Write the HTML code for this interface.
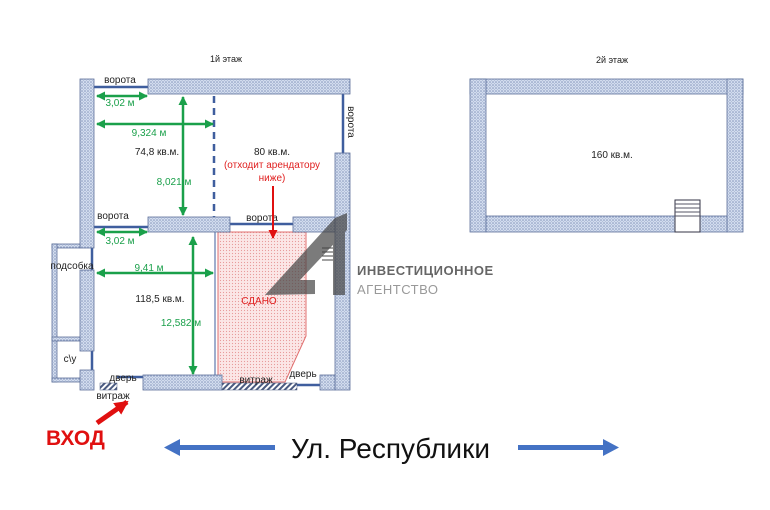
<!DOCTYPE html>
<html><head><meta charset="utf-8"><style>body{margin:0;background:#fff}svg{display:block}</style></head><body>
<svg width="770" height="510" viewBox="0 0 770 510" xmlns="http://www.w3.org/2000/svg" font-family="Liberation Sans, sans-serif">
<defs>
<pattern id="w" width="3" height="3" patternUnits="userSpaceOnUse"><rect width="3" height="3" fill="#d2dcee"/><circle cx="1" cy="1" r="0.8" fill="#8596bb"/><circle cx="2.5" cy="2.5" r="0.5" fill="#a8b6d2"/></pattern>
<pattern id="h" width="4" height="4" patternUnits="userSpaceOnUse" patternTransform="rotate(45)"><rect width="4" height="4" fill="#fff"/><rect width="2" height="4" fill="#4a5a80"/></pattern>
<pattern id="r" width="3" height="3" patternUnits="userSpaceOnUse"><rect width="3" height="3" fill="#fbe6e6"/><circle cx="1.5" cy="1.5" r="0.6" fill="#e89a9a"/></pattern>
<marker id="ga" markerUnits="userSpaceOnUse" markerWidth="9" markerHeight="9" refX="8" refY="4.5" orient="auto-start-reverse"><path d="M0,0L9,4.5L0,9Z" fill="#1aa04a"/></marker>
<marker id="ra" markerUnits="userSpaceOnUse" markerWidth="9" markerHeight="9" refX="8" refY="4.5" orient="auto"><path d="M0,0L9,4.5L0,9Z" fill="#e01010"/></marker>
<marker id="ra2" markerUnits="userSpaceOnUse" markerWidth="14" markerHeight="14" refX="12" refY="7" orient="auto"><path d="M0,0L14,7L0,14Z" fill="#e01010"/></marker>
</defs>
<g font-size="9" fill="#222" text-anchor="middle">
<text x="226" y="62">1й этаж</text><text x="612" y="63">2й этаж</text>
</g>
<g stroke="#3f5e9e" stroke-width="2.5" fill="none">
<line x1="94" y1="87" x2="148" y2="87"/>
<line x1="343" y1="94" x2="343" y2="153"/>
<line x1="94" y1="227" x2="148" y2="227"/>
<line x1="230" y1="224" x2="293" y2="224"/>
<line x1="92" y1="248" x2="92" y2="270"/>
<line x1="92" y1="351" x2="92" y2="370"/>
<line x1="117" y1="377" x2="143" y2="377"/>
<line x1="297" y1="385" x2="320" y2="385"/>
<line x1="214" y1="96" x2="214" y2="217" stroke-dasharray="7,5"/>
<line x1="215" y1="232" x2="215" y2="375" stroke-width="1"/><line x1="218" y1="232" x2="218" y2="375" stroke-width="1"/>
</g>
<polygon points="218,232 306,232 306,336 285,382 218,382" fill="url(#r)" stroke="#e07070" stroke-width="1"/>
<g fill="url(#w)" stroke="#5c6f9a" stroke-width="0.8">
<rect x="80" y="79" width="14" height="169"/>
<rect x="148" y="79" width="202" height="15"/>
<rect x="335" y="153" width="15" height="237"/>
<rect x="148" y="217" width="82" height="15"/>
<rect x="293" y="217" width="42" height="15"/>
<rect x="80" y="270" width="14" height="81"/>
<rect x="80" y="370" width="14" height="20"/>
<rect x="143" y="375" width="79" height="15"/>
<rect x="320" y="375" width="15" height="15"/>
<rect x="52" y="244" width="28" height="4"/>
<rect x="52" y="244" width="5" height="138"/>
<rect x="52" y="337" width="28" height="4"/>
<rect x="52" y="378" width="28" height="4"/>
<rect x="470" y="79" width="273" height="15"/>
<rect x="470" y="79" width="16" height="153"/>
<rect x="727" y="79" width="16" height="153"/>
<rect x="486" y="216" width="189" height="16"/>
<rect x="700" y="216" width="27" height="16"/>
</g>
<rect x="222" y="383" width="75" height="7" fill="url(#h)" stroke="#4a5a80" stroke-width="0.5"/>
<rect x="100" y="383" width="17" height="7" fill="url(#h)" stroke="#4a5a80" stroke-width="0.5"/>
<g stroke="#334" stroke-width="1" fill="#fff"><rect x="675" y="200" width="25" height="32"/></g>
<g stroke="#556" stroke-width="1"><line x1="675" y1="204" x2="700" y2="204"/><line x1="675" y1="208" x2="700" y2="208"/><line x1="675" y1="212" x2="700" y2="212"/><line x1="675" y1="216" x2="700" y2="216"/></g>
<g fill="#444" opacity="0.7">
<polygon points="265,295 335,218 347,213 347,230 300,280 315,280 315,294"/>
<rect x="333" y="232" width="12" height="63"/>
</g>
<g stroke="#444" stroke-width="1"><line x1="322" y1="248" x2="333" y2="248"/><line x1="322" y1="252" x2="333" y2="252"/><line x1="322" y1="256" x2="333" y2="256"/><line x1="322" y1="260" x2="333" y2="260"/></g>
<text x="357" y="275" font-size="13" fill="#666" font-weight="bold" letter-spacing="0.5">ИНВЕСТИЦИОННОЕ</text>
<text x="357" y="294" font-size="13" fill="#999" letter-spacing="0.5">АГЕНТСТВО</text>
<g stroke="#1aa04a" stroke-width="2.5" marker-start="url(#ga)" marker-end="url(#ga)">
<line x1="97" y1="96" x2="147" y2="96"/>
<line x1="97" y1="124" x2="213" y2="124"/>
<line x1="183" y1="97" x2="183" y2="215"/>
<line x1="97" y1="232" x2="147" y2="232"/>
<line x1="97" y1="273" x2="213" y2="273"/>
<line x1="193" y1="237" x2="193" y2="374"/>
</g>
<g font-size="10" fill="#1aa04a" text-anchor="middle">
<text x="120" y="106">3,02 м</text><text x="149" y="136">9,324 м</text>
<text x="174" y="185">8,021 м</text><text x="120" y="244">3,02 м</text>
<text x="149" y="271">9,41 м</text><text x="181" y="326">12,582 м</text>
</g>
<g font-size="10" fill="#222" text-anchor="middle">
<text x="157" y="155">74,8 кв.м.</text><text x="272" y="155">80 кв.м.</text>
<text x="160" y="302">118,5 кв.м.</text><text x="612" y="158">160 кв.м.</text>
<text x="120" y="83">ворота</text><text x="113" y="219">ворота</text><text x="262" y="221">ворота</text>
<text x="72" y="269">подсобка</text><text x="70" y="362">с\у</text>
<text x="123" y="381">дверь</text><text x="113" y="399">витраж</text>
<text x="256" y="383">витраж</text><text x="303" y="377">дверь</text>
<text transform="translate(348,122) rotate(90)">ворота</text>
</g>
<g font-size="10" fill="#e02020" text-anchor="middle">
<text x="272" y="168">(отходит арендатору</text><text x="272" y="181">ниже)</text>
<text x="259" y="304">СДАНО</text>
</g>
<line x1="273" y1="186" x2="273" y2="238" stroke="#e01010" stroke-width="2" marker-end="url(#ra)"/>
<line x1="97" y1="423" x2="127" y2="402" stroke="#e01010" stroke-width="5" marker-end="url(#ra2)"/>
<text x="46" y="445" font-size="21" font-weight="bold" fill="#e01010">ВХОД</text>
<g fill="#4472c4"><rect x="178" y="445" width="97" height="5"/><polygon points="164,447.5 180,439 180,456"/>
<rect x="518" y="445" width="88" height="5"/><polygon points="619,447.5 603,439 603,456"/></g>
<text x="291" y="458" font-size="28" fill="#111">Ул. Республики</text>
</svg>
</body></html>
